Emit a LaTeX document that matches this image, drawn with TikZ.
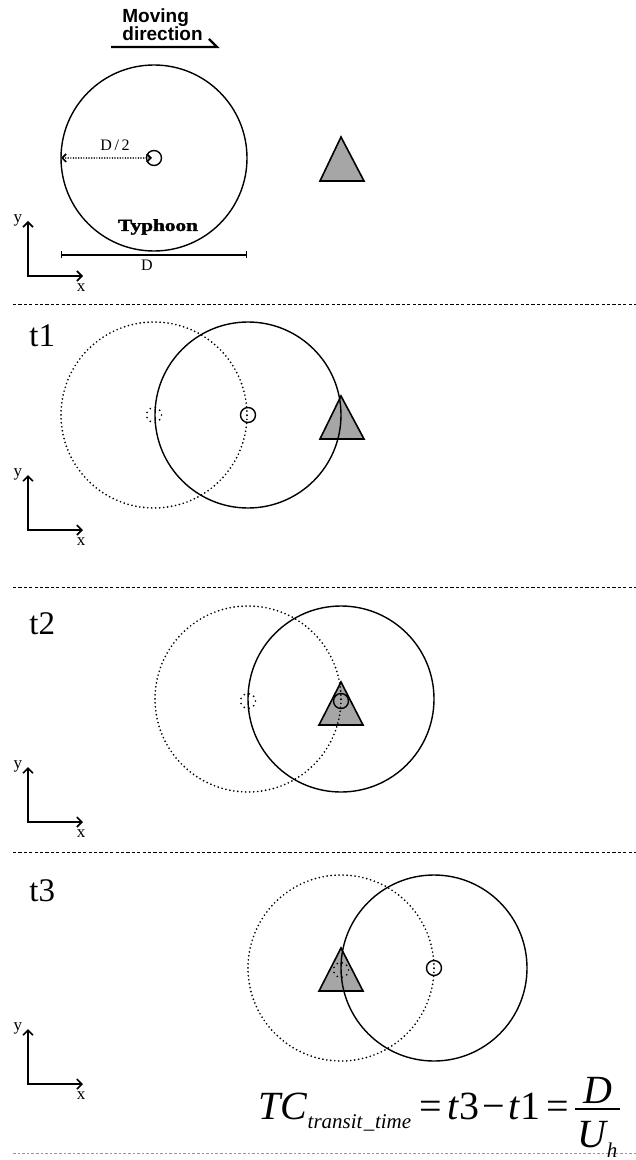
\documentclass[tikz,border=0pt]{standalone}
\usepackage{fontspec}
\usepackage{graphicx}
\setmainfont{Liberation Serif}
\newfontfamily\mvfont{Liberation Sans}
\newfontfamily\heavyfont{Liberation Serif}[BoldFeatures={FakeBold=1.5}]
\usetikzlibrary{arrows.meta,calc}
\definecolor{trigray}{RGB}{166,166,166}
\definecolor{lightline}{RGB}{150,150,150}
\begin{document}
\begin{tikzpicture}[x=0.5pt,y=-0.5pt,
  big/.style={circle,draw,line width=0.7pt,minimum size=93pt,inner sep=0pt,outer sep=0pt},
  bigdot/.style={big,line width=0.95pt,line cap=round,dash pattern=on 0pt off 2pt},
  eye/.style={circle,draw,line width=0.7pt,minimum size=7.5pt,inner sep=0pt,outer sep=0pt},
  eyedot/.style={eye,line width=0.95pt,line cap=round,dash pattern=on 0pt off 2.6pt},
  tri/.style={draw,line width=0.8pt,fill=trigray,line join=miter},
  axis/.style={line width=0.8pt,line join=miter,{Straight Barb[length=2.5pt,width=5pt]}-{Straight Barb[length=2.5pt,width=5pt]}},
  seprule/.style={line width=0.5pt,dash pattern=on 1.6pt off 1.1pt},
  axlab/.style={font=\fontsize{8.5}{10}\selectfont,inner sep=0pt},
  tlab/.style={font=\fontsize{16.5}{19}\selectfont,anchor=base west,inner sep=0pt},
  dotarrow/.style={line width=0.85pt,line cap=round,dash pattern=on 0pt off 1.3pt,{Straight Barb[length=2pt,width=4pt]}-{Straight Barb[length=2pt,width=4pt]}},
  small/.style={font=\fontsize{8}{9.5}\selectfont,inner sep=0pt},
  frm/.style={font=\fontsize{20}{24}\selectfont,inner sep=0pt},
]
\useasboundingbox (0,0) rectangle (636,1160);

% ---------- panel 0 ----------
\node[anchor=base west,inner sep=0pt,font=\mvfont\bfseries\fontsize{9.5}{11}\selectfont] (mv1) at (122,23) {Moving};
\node[anchor=base west,inner sep=0pt,font=\mvfont\bfseries\fontsize{9.5}{11}\selectfont] (mv2) at (122,41) {direction};
\coordinate (ul0) at (111,47);
\coordinate (ul1) at (217,47);
\coordinate (ul2) at (209,39);
\draw[line width=1.1pt,line join=miter] (ul0) -- (ul1) -- (ul2);

\draw[tri] (341,137) -- (364,181) -- (320,181) -- cycle;
\node[big] (c0) at (154,158) {};
\node[eye] (s0) at (154,158) {};
\draw[dotarrow,shorten >=1pt] (c0.west) -- (s0.center);
\node[small,anchor=base] (dhalf) at (115,151) {D\,/\,2};
\node[anchor=base,inner sep=0pt,font=\heavyfont\bfseries\fontsize{8.5}{10}\selectfont] (ty) at (158,231) {\scalebox{1.25}[1]{Typhoon}};
\coordinate (dl) at (61,255);
\coordinate (dr) at (247,255);
\draw[line width=0.6pt,{Bar[width=3.5pt]}-{Bar[width=3.5pt]}] (dl) -- (dr);
\node[small,anchor=base] (dlab) at (147,271) {D};

% ---------- separators ----------
\coordinate (sa1) at (13,305);  \coordinate (sb1) at (636,305);
\coordinate (sa2) at (13,587);  \coordinate (sb2) at (636,587);
\coordinate (sa3) at (13,852);  \coordinate (sb3) at (636,852);
\coordinate (sa4) at (13,1153); \coordinate (sb4) at (636,1153);
\draw[seprule] (sa1) -- (sb1);
\draw[seprule] (sa2) -- (sb2);
\draw[seprule] (sa3) -- (sb3);
\draw[seprule,lightline,line width=0.4pt,dash pattern=on 1.3pt off 1pt] (sa4) -- (sb4);

% ---------- panel t1 ----------
\node[tlab] (t1) at (29,346) {t1};
\draw[tri] (341,396) -- (364,439) -- (320,439) -- cycle;
\node[bigdot] (c1a) at (154,415) {};
\node[eyedot] (s1a) at (154,415) {};
\node[big] (c1b) at (248,415) {};
\node[eye] (s1b) at (248,415) {};

% ---------- panel t2 ----------
\node[tlab] (t2) at (29,634) {t2};
\draw[tri] (341,682) -- (363,725) -- (319,725) -- cycle;
\node[bigdot] (c2a) at (248,699) {};
\node[eyedot] (s2a) at (248,701) {};
\node[big] (c2b) at (341,699) {};
\node[eye] (s2b) at (341,701) {};

% ---------- panel t3 ----------
\node[tlab] (t3) at (29,901) {t3};
\draw[tri] (341,948) -- (363,991) -- (319,991) -- cycle;
\node[bigdot] (c3a) at (341,968) {};
\node[eyedot] (s3a) at (341,970) {};
\node[big] (c3b) at (434,968) {};
\node[eye] (s3b) at (434,968) {};

% ---------- axes ----------
\foreach \n/\Y in {0/276,1/530,2/822,3/1084}{
  \coordinate (o\n) at (28,\Y);
  \draw[axis] ($(o\n)+(0,-55)$) -- (o\n) -- ($(o\n)+(55,0)$);
  \node[axlab] (ylab\n) at ($(o\n)+(-10,-56)$) {y};
  \node[axlab] (xlab\n) at ($(o\n)+(53,12)$) {x};
}

% ---------- formula ----------
\node[frm,anchor=base west] (lhs) at (258,1119) {\textit{TC}\raisebox{-4.5pt}{\fontsize{10.5}{12}\selectfont\textit{transit\kern0.6pt\_\kern0.4pt time}}\hspace{4pt}=\hspace{3pt}\textit{t}3\hspace{1.5pt}−\hspace{1.5pt}\textit{t}1\hspace{3pt}=};
\coordinate (barL) at ($(lhs.base east)+(6,-10)$);
\coordinate (barR) at ($(barL)+(45,0)$);
\draw[line width=0.7pt] (barL) -- (barR);
\node[frm,anchor=base,font=\fontsize{20}{24}\selectfont\itshape] (num) at ($(barL)!0.5!(barR)+(0,-6)$) {D};
\node[frm,anchor=base,font=\fontsize{20}{24}\selectfont\itshape] (den) at ($(barL)!0.5!(barR)+(0,38)$) {U\raisebox{-5pt}{\fontsize{10.5}{12}\selectfont h}};
\end{tikzpicture}
\end{document}
